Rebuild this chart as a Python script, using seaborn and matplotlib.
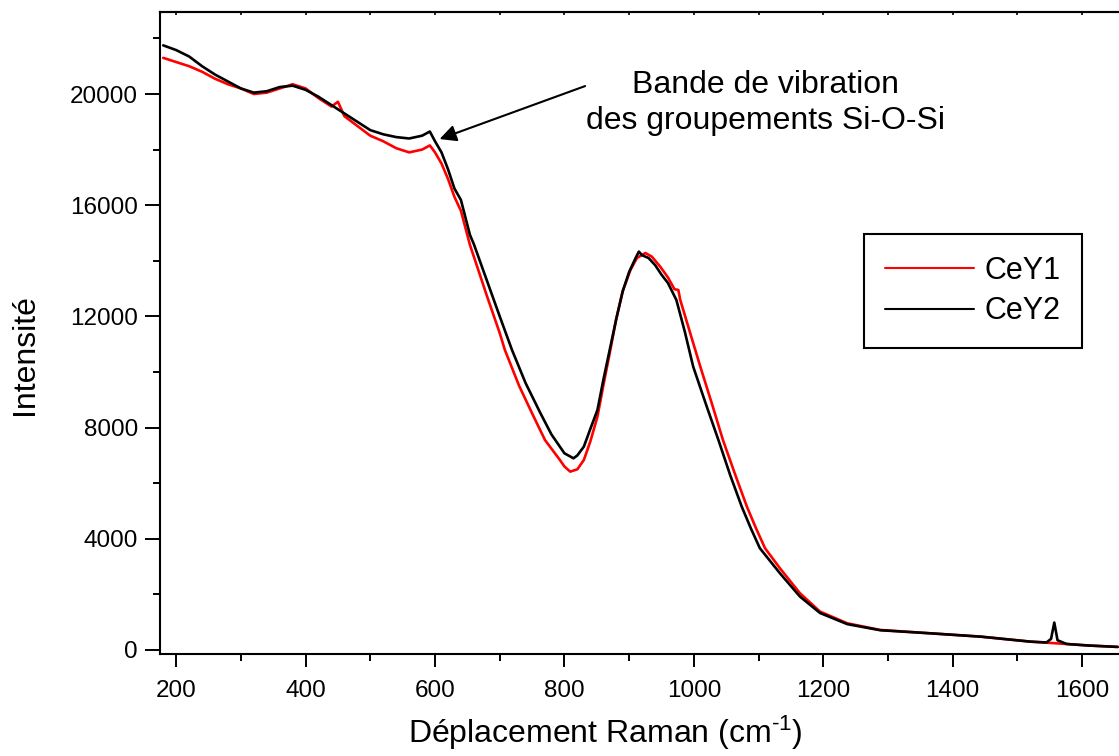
import numpy as np
import matplotlib
matplotlib.use("Agg")
import matplotlib.pyplot as plt
from matplotlib.ticker import MultipleLocator
import seaborn as sns
import pandas as pd

# spectre CeY1 (rouge)
x_cey1 = [180, 200, 220, 240, 260, 280, 300, 320, 340, 360, 380, 400, 420, 440, 450, 460,
          480, 500, 520, 540, 560, 580, 592, 600, 610, 620, 630, 640, 654, 660, 680, 700,
          708, 730, 750, 770, 793, 800, 809, 820, 830, 840, 851, 860, 871, 880, 890, 902,
          912, 925, 935, 948, 960, 970, 976, 979, 995, 1010, 1028, 1045, 1064, 1082, 1096,
          1110, 1133, 1164, 1195, 1237, 1288, 1365, 1443, 1520, 1576, 1610, 1655]
y_cey1 = [21300, 21150, 21000, 20800, 20550, 20350, 20200, 20000, 20050, 20200, 20350, 20200,
          19850, 19550, 19720, 19200, 18850, 18500, 18300, 18050, 17900, 18000, 18150, 17900,
          17500, 16950, 16300, 15800, 14570, 14150, 12750, 11400, 10790, 9500, 8513, 7550,
          6835, 6600, 6415, 6500, 6835, 7500, 8393, 9500, 10800, 11900, 12900, 13670, 14100,
          14280, 14150, 13790, 13400, 12980, 12950, 12590, 11350, 10190, 8850, 7550, 6300,
          5155, 4380, 3660, 2940, 2040, 1380, 960, 720, 600, 480, 300, 215, 160, 110]

# spectre CeY2 (noir)
x_cey2 = [180, 200, 220, 240, 260, 280, 300, 320, 340, 360, 380, 400, 420, 440, 460, 480,
          500, 520, 540, 560, 580, 592, 600, 610, 620, 630, 640, 654, 660, 680, 700, 719,
          740, 763, 780, 800, 814, 820, 830, 840, 851, 860, 871, 880, 890, 900, 910, 915,
          920, 930, 940, 950, 960, 973, 986, 999, 1020, 1038, 1056, 1074, 1088, 1102, 1133,
          1164, 1195, 1237, 1288, 1365, 1443, 1520, 1545, 1552, 1557, 1562, 1576, 1610, 1655]
y_cey2 = [21750, 21580, 21350, 21000, 20700, 20450, 20200, 20050, 20100, 20250, 20300, 20150,
          19900, 19600, 19300, 19000, 18700, 18550, 18450, 18400, 18500, 18650, 18300, 17900,
          17300, 16600, 16190, 14930, 14600, 13300, 12000, 10790, 9600, 8513, 7750, 7075,
          6895, 7000, 7315, 7950, 8633, 9700, 10910, 11900, 12900, 13600, 14100, 14330, 14200,
          14100, 13850, 13500, 13200, 12590, 11450, 10190, 8750, 7550, 6300, 5155, 4380, 3660,
          2760, 1920, 1330, 930, 710, 600, 480, 300, 270, 400, 985, 350, 215, 160, 110]

df = pd.concat([
    pd.DataFrame({'x': x_cey1, 'y': y_cey1, 'echantillon': 'CeY1'}),
    pd.DataFrame({'x': x_cey2, 'y': y_cey2, 'echantillon': 'CeY2'}),
])

sns.set_style("ticks")
plt.rcParams['font.family'] = ['Liberation Sans', 'DejaVu Sans']
plt.rcParams['mathtext.fontset'] = 'custom'
plt.rcParams['mathtext.rm'] = 'Liberation Sans'
plt.rcParams['mathtext.it'] = 'Liberation Sans'
plt.rcParams['text.color'] = 'black'
plt.rcParams['axes.labelcolor'] = 'black'
plt.rcParams['xtick.color'] = 'black'
plt.rcParams['ytick.color'] = 'black'

fig = plt.figure(figsize=(11.19, 7.56), dpi=100)
ax = fig.add_axes([160 / 1119, 102 / 756, 959 / 1119, 642 / 756])

sns.lineplot(data=df, x='x', y='y', hue='echantillon', palette={'CeY1': 'red', 'CeY2': 'black'},
             linewidth=1.9, ax=ax, sort=False)

ax.set_xlim(175, 1657)
ax.set_ylim(-145, 22950)
ax.xaxis.set_major_locator(MultipleLocator(200))
ax.xaxis.set_minor_locator(MultipleLocator(100))
ax.yaxis.set_major_locator(MultipleLocator(4000))
ax.yaxis.set_minor_locator(MultipleLocator(2000))
ax.tick_params(axis='x', which='major', length=9.5, width=1.4, labelsize=17.5, pad=9, direction='out')
ax.tick_params(axis='x', which='minor', length=4.8, width=1.4, direction='out')
ax.tick_params(axis='y', which='major', length=10.8, width=1.4, labelsize=17.5, pad=5, direction='out')
ax.tick_params(axis='y', which='minor', length=4.8, width=1.4, direction='out')
for s in ['left', 'bottom', 'top']:
    ax.spines[s].set_linewidth(1.5)
    ax.spines[s].set_color('black')
ax.spines['right'].set_visible(False)

sec = ax.secondary_xaxis('top')
sec.xaxis.set_major_locator(MultipleLocator(100))
sec.tick_params(direction='in', length=2, width=1.2, labeltop=False)
sec.spines['top'].set_linewidth(1.5)

ax.set_xlabel('Déplacement Raman (cm$^{\\text{-}1}$)', fontsize=23)
ax.set_ylabel('Intensité', fontsize=23)
ax.xaxis.set_label_coords(0.464, -0.093)
ax.yaxis.set_label_coords(-0.125, 0.467)

ax.annotate('', xy=(603, 18345), xytext=(836, 20320),
            arrowprops=dict(arrowstyle='-|>', color='black', lw=1.5, mutation_scale=25))
ax.text(1111, 19676, 'Bande de vibration\ndes groupements Si-O-Si', ha='center', va='center',
        fontsize=23, linespacing=1.25)

leg = ax.legend(loc='upper left', bbox_to_anchor=(0.734, 0.654), fontsize=22, frameon=True,
                fancybox=False, edgecolor='black', handlelength=2.9, handletextpad=0.35,
                labelspacing=0.35, borderpad=0.7, borderaxespad=0)
leg.get_frame().set_linewidth(1.5)
leg.get_frame().set_alpha(1)
for line in leg.get_lines():
    line.set_linewidth(1.5)

fig.savefig('out.png', dpi=100)
